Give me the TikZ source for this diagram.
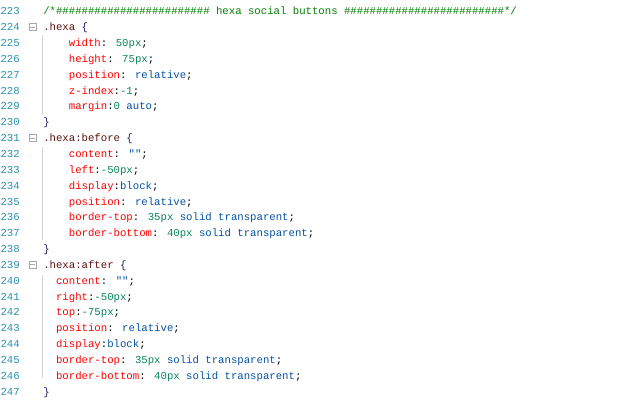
\documentclass[tikz,border=0pt]{standalone}
\usepackage{fontspec}
\newfontfamily\codefont{Liberation Mono}
\usepackage{tikz}
\usetikzlibrary{positioning}
\definecolor{lnumcol}{HTML}{2B91AF}
\definecolor{selcol}{HTML}{5A1212}
\definecolor{propcol}{HTML}{FF0000}
\definecolor{valcol}{HTML}{0451A5}
\definecolor{numcol}{HTML}{098658}
\definecolor{comcol}{HTML}{008000}
\definecolor{bracecol}{HTML}{1F1F5F}
\definecolor{foldcol}{HTML}{A8A8A8}
\definecolor{guidecol}{HTML}{D4D4D4}
\newcommand{\csel}[1]{\textcolor{selcol}{#1}}
\newcommand{\cprop}[1]{\textcolor{propcol}{#1}}
\newcommand{\cval}[1]{\textcolor{valcol}{#1}}
\newcommand{\cnum}[1]{\textcolor{numcol}{#1}}
\newcommand{\ccom}[1]{\textcolor{comcol}{#1}}
\newcommand{\cbr}[1]{\textcolor{bracecol}{#1}}
\newcommand{\cquote}{\textcolor{valcol}{\symbol{34}\symbol{34}}}
\tikzstyle{lnum} = [anchor=base east, inner sep=0pt, font=\codefont\fontsize{8pt}{10pt}\selectfont, text=lnumcol]
\tikzstyle{code} = [inner sep=0pt, font=\codefont\fontsize{8pt}{10pt}\selectfont, text=black]
\tikzstyle{fold} = [rectangle, draw=foldcol, line width=0.6pt, minimum size=5.25pt, inner sep=0pt]
\tikzstyle{foldmark} = [draw=foldcol, line width=0.6pt]
\tikzstyle{guide} = [draw=guidecol, line width=0.75pt]
\begin{document}
\begin{tikzpicture}[x=0.75pt, y=-0.75pt]
				\fill[white] (0,0) rectangle (641,400);
				\useasboundingbox (0,0) rectangle (641,400);
				%----------------------------------------------------%
				\foreach \n [count=\i from 0] in {223,...,247}
					\node(n\n) [lnum] at (20, {14.8+\i*15.85}) {\n};
				%----------------------------------------------------%
				\node(c223) [code, base right=17.25pt of n223] {\ccom{/*\#\#\#\#\#\#\#\#\#\#\#\#\#\#\#\#\#\#\#\#\#\#\#\# hexa social buttons \#\#\#\#\#\#\#\#\#\#\#\#\#\#\#\#\#\#\#\#\#\#\#\#\#*/}};
				\node(c224) [code, base right=17.25pt of n224] {\csel{.hexa} \cbr{\{}};
				\node(c225) [code, base right=36.45pt of n225] {\cprop{width}: \cnum{50px};};
				\node(c226) [code, base right=36.45pt of n226] {\cprop{height}: \cnum{75px};};
				\node(c227) [code, base right=36.45pt of n227] {\cprop{position}: \cval{relative};};
				\node(c228) [code, base right=36.45pt of n228] {\cprop{z-index}:\cnum{-1};};
				\node(c229) [code, base right=36.45pt of n229] {\cprop{margin}:\cnum{0} \cval{auto};};
				\node(c230) [code, base right=17.25pt of n230] {\cbr{\}}};
				%----------------------------------------------------%
				\node(c231) [code, base right=17.25pt of n231] {\csel{.hexa:before} \cbr{\{}};
				\node(c232) [code, base right=36.45pt of n232] {\cprop{content}: \cquote;};
				\node(c233) [code, base right=36.45pt of n233] {\cprop{left}:\cnum{-50px};};
				\node(c234) [code, base right=36.45pt of n234] {\cprop{display}:\cval{block};};
				\node(c235) [code, base right=36.45pt of n235] {\cprop{position}: \cval{relative};};
				\node(c236) [code, base right=36.45pt of n236] {\cprop{border-top}: \cnum{35px} \cval{solid transparent};};
				\node(c237) [code, base right=36.45pt of n237] {\cprop{border-bottom}: \cnum{40px} \cval{solid transparent};};
				\node(c238) [code, base right=17.25pt of n238] {\cbr{\}}};
				%----------------------------------------------------%
				\node(c239) [code, base right=17.25pt of n239] {\csel{.hexa:after} \cbr{\{}};
				\node(c240) [code, base right=26.85pt of n240] {\cprop{content}: \cquote;};
				\node(c241) [code, base right=26.85pt of n241] {\cprop{right}:\cnum{-50px};};
				\node(c242) [code, base right=26.85pt of n242] {\cprop{top}:\cnum{-75px};};
				\node(c243) [code, base right=26.85pt of n243] {\cprop{position}: \cval{relative};};
				\node(c244) [code, base right=26.85pt of n244] {\cprop{display}:\cval{block};};
				\node(c245) [code, base right=26.85pt of n245] {\cprop{border-top}: \cnum{35px} \cval{solid transparent};};
				\node(c246) [code, base right=26.85pt of n246] {\cprop{border-bottom}: \cnum{40px} \cval{solid transparent};};
				\node(c247) [code, base right=17.25pt of n247] {\cbr{\}}};
				%----------------------------------------------------%
				\foreach \n in {224,231,239} {
					\node(f\n) [fold, right=6.4pt of n\n] {};
					\draw[foldmark] ([xshift=1.2pt]f\n.west) -- ([xshift=-1.2pt]f\n.east);
				}
				\draw[guide] (42.5,35) -- (42.5,114.5);
				\draw[guide] (42.5,146.5) -- (42.5,240);
				\draw[guide] (42.5,274.5) -- (42.5,378);
			\end{tikzpicture}
\end{document}
